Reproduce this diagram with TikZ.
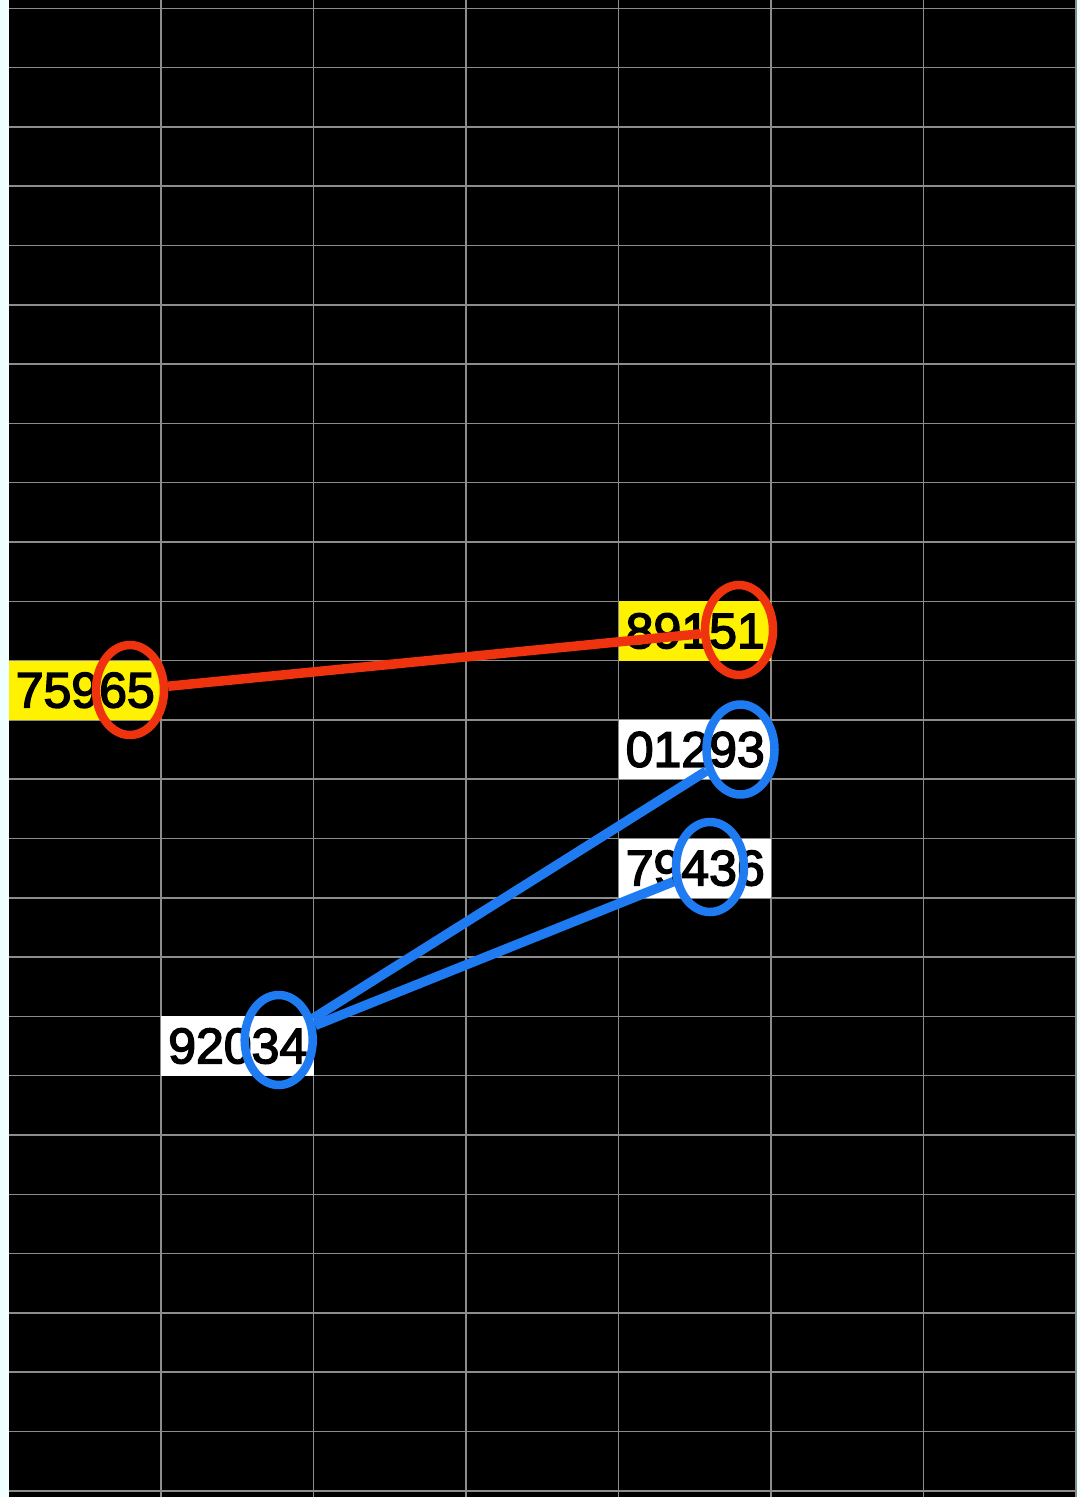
\documentclass[tikz,border=0pt]{standalone}
\usepackage{fontspec}
\setmainfont{Liberation Sans}
\usetikzlibrary{shapes.geometric}
\definecolor{sheetcyan}{HTML}{F0FFFF}
\definecolor{gridgray}{HTML}{8C8C8C}
\definecolor{markred}{HTML}{F0330F}
\definecolor{markblue}{HTML}{1E7BF2}
\begin{document}
\begin{tikzpicture}[x=0.5pt,y=-0.5pt,
  cell/.style={rectangle,inner sep=0pt,minimum width=76.25pt,minimum height=29.65pt,
    text width=69pt,align=right,font=\fontsize{25}{25}\selectfont\addfontfeature{FakeBold=3},text=black},
  hotcell/.style={cell,fill=yellow},
  plaincell/.style={cell,fill=white},
  ring/.style={ellipse,line width=4.25pt,inner sep=0pt,minimum width=34pt,minimum height=45pt},
  redring/.style={ring,draw=markred},
  bluering/.style={ring,draw=markblue},
  link/.style={line width=4.75pt}]
\useasboundingbox (0,0) rectangle (1080,1497);
\fill[sheetcyan] (0,0) rectangle (1080,1497);
\fill[black] (8.5,0) rectangle (1076.5,1497);
\foreach \i in {1,...,7}
  \draw[gridgray,line width=0.75pt] ({8.5+152.5*\i},0) -- ({8.5+152.5*\i},1497);
\foreach \j in {0,...,25}
  \draw[gridgray,line width=0.75pt] (8.5,{8.3+59.3*\j}) -- (1076,{8.3+59.3*\j});

\node[hotcell] (n75965) at (84.75,690.25) {75965};
\node[hotcell] (n89151) at (694.75,630.95) {89151};
\node[plaincell] (n01293) at (694.75,749.55) {01293};
\node[plaincell] (n79436) at (694.75,868.15) {79436};
\node[plaincell] (n92034) at (237.25,1046.05) {92034};

\node[redring] (r65) at (130,690) {};
\node[redring] (r51) at (739,630) {};
\node[bluering] (b93) at (740.5,749.5) {};
\node[bluering] (b43) at (710,867) {};
\node[bluering] (b34) at (278.7,1040) {};

\draw[link,markred] (r65) -- (r51);
\draw[link,markblue] (b34) -- (b93);
\draw[link,markblue] (b34) -- (b43);
\end{tikzpicture}
\end{document}
